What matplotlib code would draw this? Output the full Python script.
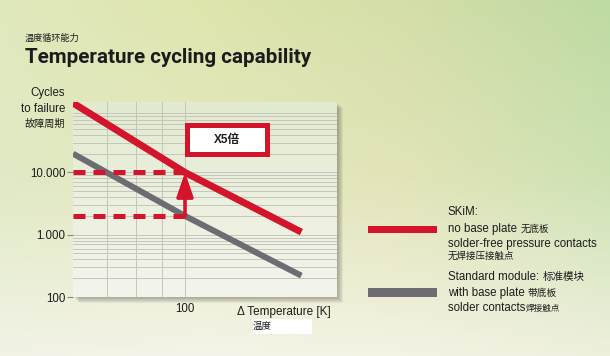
import numpy as np
import matplotlib.pyplot as plt
from matplotlib.patches import Rectangle
from matplotlib.ticker import NullFormatter, LogLocator

# values
temp_k = [60, 100, 170]
skim_cycles = [130000, 10000, 1100]
std_cycles = [20000, 2000, 220]
ytick_vals = [100, 1000, 10000]
ytick_labels = ['100', '1.000', '10.000']
xtick_vals = [100]
xtick_labels = ['100']
xgrid_vals = [70, 80, 90, 100]
factor = 5

RED = '#d3142b'
GREY = '#6c6c72'
INK = '#1c1c1c'
LATIN = ['Liberation Sans', 'Noto Sans CJK SC']
CJK = ['Noto Sans CJK SC', 'Liberation Sans']

W, H = 610, 356
fig = plt.figure(figsize=(W / 100, H / 100), dpi=100)

# full-figure axes in pixel units for the backdrop and the free text
bg = fig.add_axes([0, 0, 1, 1])
bg.set_xlim(0, W)
bg.set_ylim(H, 0)
bg.axis('off')


def gradient(ctrl, w, h):
    ctrl = np.asarray(ctrl, float) / 255
    ny, nx = ctrl.shape[:2]
    wx = np.stack([np.interp(np.linspace(0, 1, w), np.linspace(0, 1, nx), e) for e in np.eye(nx)], 1)
    wy = np.stack([np.interp(np.linspace(0, 1, h), np.linspace(0, 1, ny), e) for e in np.eye(ny)], 1)
    return np.einsum('hj,wi,jic->hwc', wy, wx, ctrl)


back = gradient([[(225, 233, 190), (222, 229, 172), (212, 222, 168), (190, 218, 162)],
                 [(224, 234, 196), (230, 232, 192), (226, 228, 184), (206, 226, 180)],
                 [(242, 243, 230), (245, 244, 232), (244, 243, 228), (238, 240, 222)]], W, H)
bg.imshow(back, extent=[0, W, H, 0], aspect='auto', zorder=0)

# plot panel: shadow + pale gradient
px0, py0, pw, ph = 73, 102, 264, 195
for off in range(1, 7):
    bg.add_patch(Rectangle((px0 + off, py0 + off), pw, ph, color='k', alpha=0.05, lw=0, zorder=1))
panel = gradient([[(226, 234, 208)], [(236, 240, 222)], [(243, 244, 236)]], 2, 50)
bg.imshow(panel, extent=[px0, px0 + pw, py0 + ph, py0], aspect='auto', zorder=2)

ax = fig.add_axes([px0 / W, 1 - (py0 + ph) / H, pw / W, ph / H])
ax.set_facecolor('none')
ax.set_xscale('log')
ax.set_yscale('log')
ax.set_xlim(60, 200)
ax.set_ylim(100, 1.35e5)

ax.set_xticks(xtick_vals, xtick_labels)
ax.set_xticks(xgrid_vals, minor=True)
ax.xaxis.set_minor_formatter(NullFormatter())
ax.set_yticks(ytick_vals, ytick_labels)
ax.yaxis.set_minor_locator(LogLocator(subs=np.arange(2, 10)))
ax.yaxis.set_minor_formatter(NullFormatter())
ax.grid(which='both', color='#c3c7ba', lw=0.7)
ax.set_axisbelow(True)
for s in ax.spines.values():
    s.set_visible(False)
ax.tick_params(axis='x', which='both', length=0, pad=4, labelsize=8.3, labelcolor=INK)
ax.tick_params(axis='y', which='major', length=4.3, width=0.8, color='#8a8a8a', pad=1,
               labelsize=8.3, labelcolor=INK)
ax.tick_params(axis='y', which='minor', length=0)
for lab in ax.get_xticklabels() + ax.get_yticklabels():
    lab.set_family(LATIN)

ax.plot(temp_k, std_cycles, color=GREY, lw=4.3, solid_capstyle='butt', zorder=3)
ax.plot(temp_k, skim_cycles, color=RED, lw=5.0, solid_capstyle='butt', zorder=4)

# dashed guides at 100 K and the x5 arrow
t_ref = temp_k[1]
for level in (skim_cycles[1], std_cycles[1]):
    ax.plot([ax.get_xlim()[0], t_ref], [level, level], color=RED, lw=3.6,
            dashes=(2.4, 1.6), dash_capstyle='butt', zorder=5)
ax.annotate('', xy=(t_ref, skim_cycles[1]), xytext=(t_ref, std_cycles[1]),
            arrowprops=dict(arrowstyle='-|>,head_length=1.45,head_width=0.5', color=RED,
                            lw=2.6, shrinkA=0, shrinkB=0, mutation_scale=10), zorder=6)

ax.add_patch(Rectangle((0.4337, 0.7308), 0.303, 0.1538, transform=ax.transAxes,
                       facecolor='white', edgecolor=RED, lw=3.6, zorder=6))
ax.text(0.583, 0.805, f'X{factor}倍', transform=ax.transAxes, ha='center', va='center',
        fontsize=8.5, fontweight='bold', color=INK, family=LATIN, zorder=7)

# titles and axis captions
bg.text(25, 38, '温度循环能力', fontsize=6.6, color=INK, family=CJK, va='center')
title = bg.text(25, 63, 'Temperature cycling capability', fontsize=16, fontweight='bold',
                color=INK, family=['Roboto', 'Liberation Sans'], va='baseline')
bg.text(65, 93, 'Cycles', fontsize=8.3, color=INK, family=LATIN, ha='right', va='center')
bg.text(65, 109, 'to failure', fontsize=8.3, color=INK, family=LATIN, ha='right', va='center')
bg.text(65, 124, '故障周期', fontsize=7.3, color=INK, family=CJK, ha='right', va='center')

bg.text(237, 312, 'Δ Temperature [K]', fontsize=8.5, color=INK, family=LATIN, va='center')
bg.add_patch(Rectangle((253, 319), 59, 15, color='white', lw=0, zorder=3))
bg.text(253, 326, '温度', fontsize=6.8, color=INK, family=CJK, va='center', zorder=4)

# legend
bg.add_patch(Rectangle((368, 226), 69, 7, color=RED, lw=0, zorder=3))
bg.add_patch(Rectangle((368, 288), 69, 9, color=GREY, lw=0, zorder=3))


def legend_line(y, latin, cjk='', cjk_size=6.8):
    t = bg.text(448, y, latin, fontsize=8.3, color=INK, family=LATIN, va='center', zorder=4)
    if cjk:
        bg.annotate(cjk, xy=(1, 0.5), xycoords=t, fontsize=cjk_size, color=INK, family=CJK,
                    va='center', ha='left', zorder=4)


legend_line(212, 'SKiM:')
legend_line(229, 'no base plate ', '无底板')
legend_line(244, 'solder-free pressure contacts')
bg.text(448, 256, '无焊接压接触点', fontsize=6.8, color=INK, family=CJK, va='center', zorder=4)
legend_line(277, 'Standard module: ', '标准模块', 7.6)
legend_line(293, 'with base plate ', '带底板', 7.0)
legend_line(308, 'solder contacts', '焊接触点', 6.2)

# the title is set in a condensed face; squeeze the size to the same width (~288 px)
fig.canvas.draw()
bb = title.get_window_extent(fig.canvas.get_renderer())
title.set_fontsize(title.get_fontsize() * 288 / bb.width)

fig.savefig('out.png', dpi=100)
